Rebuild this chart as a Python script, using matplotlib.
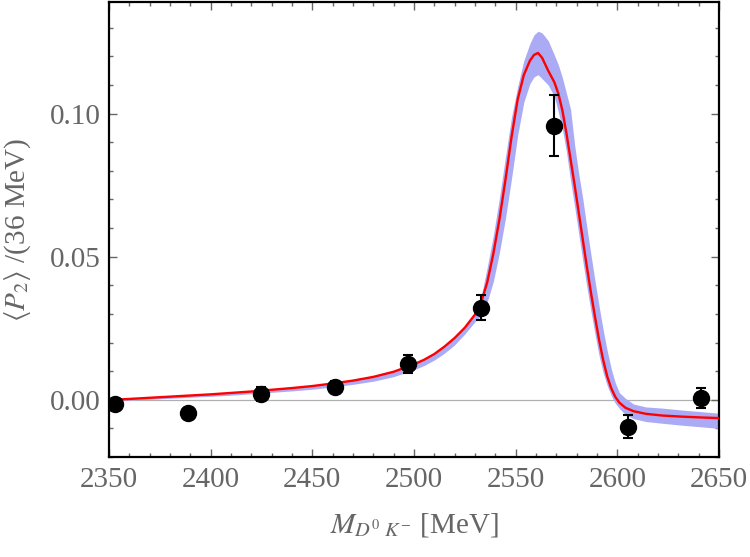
import matplotlib
matplotlib.use("Agg")
import matplotlib.pyplot as plt
from matplotlib.ticker import MultipleLocator

# binned data points (bin width 36 MeV)
mass = [2353, 2389, 2425, 2461, 2497, 2533, 2569, 2605, 2641]
p2 = [-0.0014, -0.0047, 0.0020, 0.0045, 0.0126, 0.0322, 0.0958, -0.0094, 0.0005]
p2_err = [0.0010, 0.0010, 0.0025, 0.0022, 0.0031, 0.0043, 0.0106, 0.0040, 0.0035]

# fit curve and its error band
curve_m = [2350, 2360, 2370, 2380, 2390, 2400, 2410, 2420, 2430, 2440,
           2450, 2460, 2470, 2480, 2490, 2500, 2505, 2510, 2515, 2520,
           2525, 2530, 2533, 2536, 2539, 2542, 2545, 2548, 2551, 2554,
           2557, 2559, 2561, 2563, 2566, 2569, 2571, 2573, 2575, 2577,
           2579, 2581, 2583, 2585, 2587, 2589, 2591, 2593, 2595, 2597,
           2599, 2601, 2604, 2608, 2614, 2622, 2632, 2642, 2650]
fit = [-0.0001, 0.0003, 0.0007, 0.0011, 0.0015, 0.0019, 0.0024, 0.0029, 0.0035, 0.0041,
       0.0048, 0.0057, 0.0067, 0.0080, 0.0098, 0.0124, 0.0140, 0.0160, 0.0186, 0.0216,
       0.0252, 0.0298, 0.0340, 0.0410, 0.0510, 0.0630, 0.0770, 0.0920, 0.1050, 0.1135,
       0.1185, 0.1205, 0.1212, 0.1195, 0.1150, 0.1110, 0.1070, 0.1010, 0.0930, 0.0840,
       0.0750, 0.0655, 0.0560, 0.0465, 0.0375, 0.0290, 0.0210, 0.0140, 0.0082, 0.0040,
       0.0010, -0.0010, -0.0028, -0.0040, -0.0049, -0.0055, -0.0059, -0.0062, -0.0064]
band_hi = [0.0001, 0.0005, 0.0009, 0.0013, 0.0017, 0.0021, 0.0026, 0.0031, 0.0037, 0.0043,
           0.0050, 0.0059, 0.0069, 0.0082, 0.0100, 0.0126, 0.0142, 0.0162, 0.0188, 0.0218,
           0.0255, 0.0303, 0.0360, 0.0463, 0.0574, 0.0705, 0.0850, 0.0990, 0.1095, 0.1185,
           0.1245, 0.1275, 0.1288, 0.1282, 0.1255, 0.1205, 0.1170, 0.1125, 0.1070, 0.1015,
           0.0890, 0.0790, 0.0703, 0.0603, 0.0508, 0.0416, 0.0328, 0.0246, 0.0172, 0.0108,
           0.0059, 0.0025, 0.0005, -0.0015, -0.0025, -0.0029, -0.0036, -0.0042, -0.0047]
band_lo = [-0.0005, -0.0001, 0.0002, 0.0005, 0.0009, 0.0012, 0.0016, 0.0021, 0.0026, 0.0031,
           0.0037, 0.0045, 0.0054, 0.0065, 0.0081, 0.0105, 0.0120, 0.0139, 0.0163, 0.0192,
           0.0230, 0.0273, 0.0295, 0.0342, 0.0413, 0.0514, 0.0635, 0.0775, 0.0925, 0.1040,
           0.1105, 0.1128, 0.1136, 0.1122, 0.1100, 0.1060, 0.1005, 0.0945, 0.0865, 0.0765,
           0.0675, 0.0580, 0.0485, 0.0395, 0.0310, 0.0230, 0.0155, 0.0095, 0.0050, 0.0015,
           -0.0012, -0.0030, -0.0052, -0.0066, -0.0076, -0.0082, -0.0089, -0.0095, -0.0100]

plt.rcParams['font.family'] = ['Liberation Serif', 'DejaVu Serif']
plt.rcParams['mathtext.fontset'] = 'stix'

gray = '#666666'
fig = plt.figure(figsize=(7.5, 5.57), dpi=100)
ax = fig.add_axes([0.1453, 0.1795, 0.8134, 0.8169])

ax.axhline(0, color='#b0b0b0', lw=0.9, zorder=1)
ax.fill_between(curve_m, band_lo, band_hi, color='#aaabf4', lw=0, zorder=2)
ax.plot(curve_m, fit, color='#ff0000', lw=1.7, zorder=3)
ax.errorbar(mass, p2, yerr=p2_err, fmt='o', color='black', ms=11.5,
            elinewidth=1.5, capsize=3.6, capthick=1.5, zorder=4)

ax.set_xlim(2350, 2650)
ax.set_ylim(-0.02, 0.139)
ax.set_xticks([2350, 2400, 2450, 2500, 2550, 2600, 2650])
ax.set_yticks([0.0, 0.05, 0.10])
ax.set_yticklabels(['0.00', '0.05', '0.10'])
ax.xaxis.set_minor_locator(MultipleLocator(10))
ax.yaxis.set_minor_locator(MultipleLocator(0.01))
ax.tick_params(which='both', direction='in', top=True, right=True,
               color=gray, width=1.0, labelcolor=gray, labelsize=21)
ax.tick_params(axis='x', which='major', length=5.5, pad=7)
ax.tick_params(axis='y', which='major', length=5.5, pad=6)
ax.tick_params(which='minor', length=3.2)
for s in ax.spines.values():
    s.set_linewidth(1.6)
    s.set_color('black')

ax.set_xlabel(r'$M_{D^0\ K^{-}}$ [MeV]', fontsize=21, color=gray, labelpad=13)
ax.set_ylabel(r'$\langle P_2\rangle$ /(36 MeV)', fontsize=21, color=gray)
ax.yaxis.set_label_coords(-0.125, 0.5)

fig.savefig('out.png', dpi=100)
